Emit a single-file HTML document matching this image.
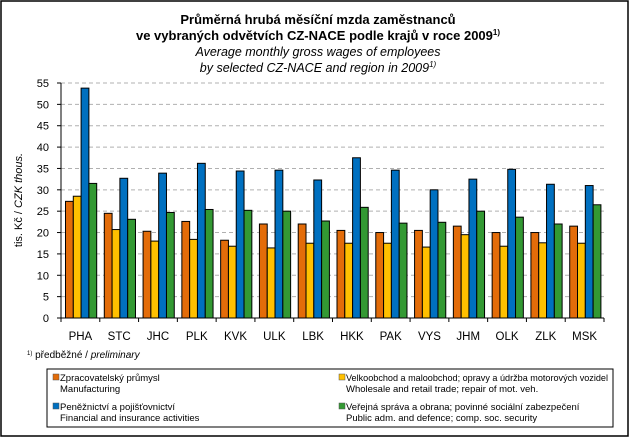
<!DOCTYPE html>
<html><head><meta charset="utf-8"><style>
body{margin:0;background:#fff;}
svg{display:block;font-family:"Liberation Sans",sans-serif;}
</style></head><body>
<svg width="630" height="438" viewBox="0 0 630 438" xmlns="http://www.w3.org/2000/svg">
<rect x="1" y="1" width="627" height="435" fill="#fff" stroke="#000" stroke-width="1.5"/>
<g text-anchor="middle" fill="#000">
<text x="318" y="24" font-size="13" font-weight="bold">Průměrná hrubá měsíční mzda zaměstnanců</text>
<text x="318" y="40" font-size="13" font-weight="bold">ve vybraných  odvětvích  CZ-NACE  podle krajů v roce 2009<tspan font-size="8" dy="-5">1)</tspan></text>
<text x="318" y="56" font-size="12.5" font-style="italic">Average monthly  gross wages of employees</text>
<text x="318" y="72" font-size="12.5" font-style="italic">by selected CZ-NACE  and region  in 2009<tspan font-size="8" dy="-5">1)</tspan></text>
</g>
<g id="grid" stroke="#b0b0b0" stroke-dasharray="4,3" stroke-width="1"></g>
<g id="bars" stroke="#000" stroke-width="1"></g>
<g id="axis" stroke="#000" stroke-width="1"></g>
<g id="ylab" font-size="11" text-anchor="end"></g>
<g id="xlab" font-size="11.5" text-anchor="middle"></g>
<text transform="translate(22,200) rotate(-90)" font-size="11" text-anchor="middle">tis. Kč / <tspan font-style="italic">CZK thous.</tspan></text>
<text x="27" y="358" font-size="10"><tspan font-size="6" dy="-3">1)</tspan><tspan dy="3"> předběžné  / </tspan><tspan font-style="italic">preliminary</tspan></text>
<rect x="47" y="369" width="566" height="58" fill="none" stroke="#000" stroke-width="1"/>
<g font-size="9.5" fill="#000">
<rect x="53" y="374" width="6" height="6" fill="#E36C09" stroke="#555" stroke-width="0.5"/>
<text x="60" y="381">Zpracovatelský průmysl</text><text x="60" y="392">Manufacturing</text>
<rect x="53" y="403" width="6" height="6" fill="#0070C0" stroke="#555" stroke-width="0.5"/>
<text x="60" y="410">Peněžnictví a pojišťovnictví</text><text x="60" y="421">Financial and insurance activities</text>
<rect x="339" y="374" width="6" height="6" fill="#FFC000" stroke="#555" stroke-width="0.5"/>
<text x="346" y="381" textLength="262" lengthAdjust="spacingAndGlyphs">Velkoobchod a maloobchod; opravy a údržba motorových vozidel</text><text x="346" y="392">Wholesale and retail trade; repair of mot. veh.</text>
<rect x="339" y="403" width="6" height="6" fill="#339933" stroke="#555" stroke-width="0.5"/>
<text x="346" y="410">Veřejná správa a obrana; povinné sociální zabezpečení</text><text x="346" y="421">Public adm. and defence; comp. soc. security</text>
</g>
</svg>
<script>
const NS="http://www.w3.org/2000/svg";
const x0=61,x1=604,y0=318,sc=235/55,cw=(x1-x0)/14;
const cats=["PHA","STC","JHC","PLK","KVK","ULK","LBK","HKK","PAK","VYS","JHM","OLK","ZLK","MSK"];
const d=[[27.3,28.5,53.8,31.5],[24.5,20.7,32.7,23.1],[20.3,18,33.9,24.7],[22.6,18.4,36.2,25.4],[18.2,16.8,34.4,25.2],[22,16.4,34.6,25],[22,17.5,32.3,22.7],[20.5,17.5,37.5,25.9],[20,17.5,34.6,22.2],[20.5,16.6,30,22.4],[21.5,19.5,32.5,25],[20,16.8,34.8,23.6],[20,17.6,31.3,22],[21.5,17.5,31,26.5]];
const col=["#E36C09","#FFC000","#0070C0","#339933"];
function el(p,t,a,txt){const e=document.createElementNS(NS,t);for(const k in a)e.setAttribute(k,a[k]);if(txt!=null)e.textContent=txt;document.getElementById(p).appendChild(e);}
for(let v=5;v<=55;v+=5){const y=y0-v*sc;el("grid","line",{x1:x0,x2:x1,y1:y,y2:y});}
for(let v=0;v<=55;v+=5){const y=y0-v*sc;el("ylab","text",{x:49,y:y+4},v);el("axis","line",{x1:x0-4,x2:x0,y1:y,y2:y});}
el("axis","line",{x1:x0,x2:x0,y1:y0-55*sc,y2:y0});
el("axis","line",{x1:x0,x2:x1,y1:y0,y2:y0});
for(let i=0;i<=14;i++){const x=x0+i*cw;el("axis","line",{x1:x,x2:x,y1:y0,y2:y0+4});}
d.forEach((r,i)=>{const cx=x0+i*cw;r.forEach((v,j)=>{el("bars","rect",{x:cx+4.5+j*7.8,y:y0-v*sc,width:7.8,height:v*sc,fill:col[j]});});el("xlab","text",{x:cx+cw/2,y:340},cats[i]);});
</script>
</body></html>
